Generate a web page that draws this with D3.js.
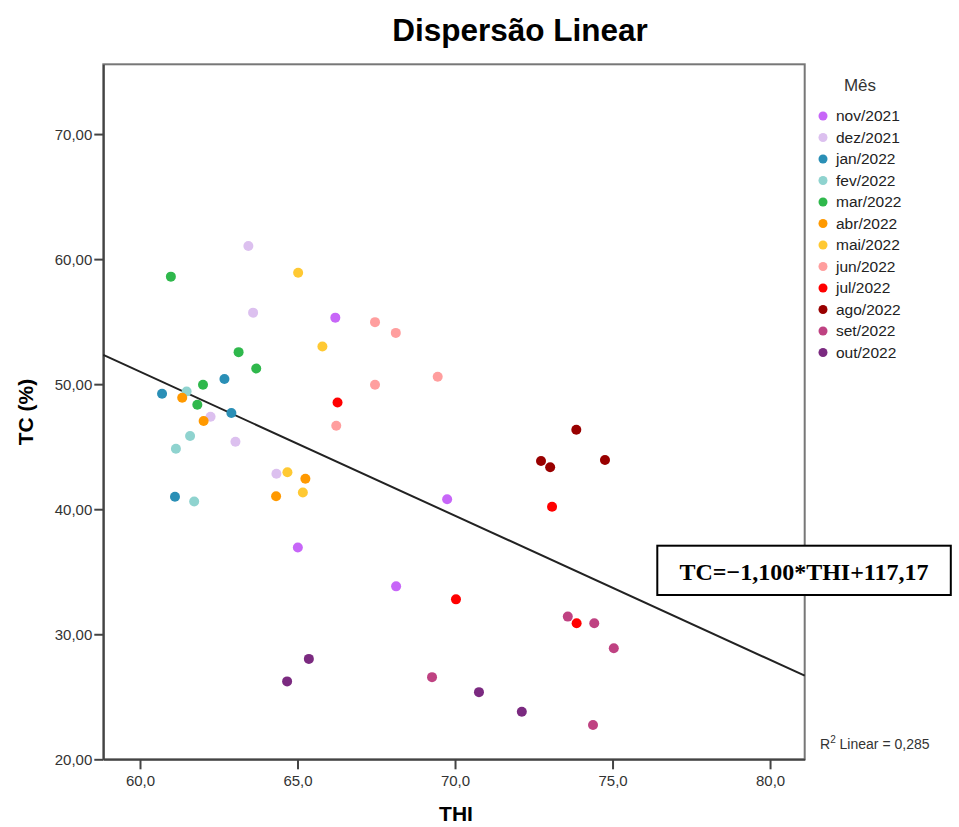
<!DOCTYPE html>
<html>
<head>
<meta charset="utf-8">
<script src="https://cdn.jsdelivr.net/npm/d3@7"></script>
<style>
  body { margin: 0; background: #fff; }
  svg { font-family: "Liberation Sans", Arial, sans-serif; }
</style>
</head>
<body>
<div id="chart"></div>
<script>
// months (legend order) and colours
const months = ["nov/2021", "dez/2021", "jan/2022", "fev/2022", "mar/2022", "abr/2022",
  "mai/2022", "jun/2022", "jul/2022", "ago/2022", "set/2022", "out/2022"]
const monthColors = ["#c766f8", "#dcc0ef", "#2a8fb6", "#8fd3cf", "#2fb84c", "#ff9900",
  "#ffc933", "#ff9e9e", "#ff0000", "#990000", "#bf4282", "#7b2a80"]

// THI / TC values per month
const thiNov = [66.20, 69.75, 65.01, 68.13]
const tcNov  = [55.32, 40.80, 36.94, 33.83]
const thiDez = [63.44, 63.59, 62.24, 63.03, 64.33]
const tcDez  = [61.05, 55.72, 47.40, 45.40, 42.83]
const thiJan = [62.68, 60.70, 62.90, 61.11]
const tcJan  = [50.41, 49.23, 47.69, 40.99]
const thiFev = [61.48, 61.59, 61.14, 61.72]
const tcFev  = [49.42, 45.86, 44.84, 40.61]
const thiMar = [60.98, 63.13, 63.69, 62.00, 61.82]
const tcMar  = [58.60, 52.56, 51.25, 49.95, 48.36]
const thiAbr = [61.34, 62.02, 65.25, 64.32]
const tcAbr  = [48.91, 47.06, 42.43, 41.04]
const thiMai = [65.02, 65.79, 64.68, 65.17]
const tcMai  = [58.91, 53.01, 42.95, 41.33]
const thiJun = [67.46, 68.12, 67.46, 69.45, 66.23]
const tcJun  = [54.96, 54.10, 49.95, 50.59, 46.68]
const thiJul = [66.27, 73.08, 70.03, 73.86]
const tcJul  = [48.54, 40.19, 32.79, 30.88]
const thiAgo = [73.85, 72.73, 73.02, 74.76]
const tcAgo  = [46.36, 43.86, 43.35, 43.94]
const thiSet = [73.58, 74.42, 75.04, 69.27, 74.38]
const tcSet  = [31.41, 30.88, 28.88, 26.57, 22.74]
const thiOut = [65.36, 64.67, 70.76, 72.12]
const tcOut  = [28.03, 26.23, 25.37, 23.80]

// fit line as drawn (ends at the frame edges)
const fitThi = [58.835, 81.10]
const fitTc = [52.34, 26.69]

const xTicks = [60, 65, 70, 75, 80]
const yTicks = [20, 30, 40, 50, 60, 70]

const thiByMonth = [thiNov, thiDez, thiJan, thiFev, thiMar, thiAbr, thiMai, thiJun, thiJul, thiAgo, thiSet, thiOut]
const tcByMonth = [tcNov, tcDez, tcJan, tcFev, tcMar, tcAbr, tcMai, tcJun, tcJul, tcAgo, tcSet, tcOut]

const points = []
months.forEach((m, i) => {
  thiByMonth[i].forEach((v, j) => points.push({ month: m, thi: v, tc: tcByMonth[i][j], color: monthColors[i] }))
})

const W = 959, H = 827
const PLOT = { LEFT: 103.3, RIGHT: 804.7, TOP: 64.3, BOTTOM: 759.3 }

const svg = d3.select("#chart").append("svg")
  .attr("width", W)
  .attr("height", H)

const x = d3.scaleLinear().domain([58.835, 81.10]).range([PLOT.LEFT, PLOT.RIGHT])
const y = d3.scaleLinear().domain([20, 75.58]).range([PLOT.BOTTOM, PLOT.TOP])

// frame
svg.append("rect")
  .attr("x", PLOT.LEFT)
  .attr("y", PLOT.TOP)
  .attr("width", PLOT.RIGHT - PLOT.LEFT)
  .attr("height", PLOT.BOTTOM - PLOT.TOP)
  .attr("fill", "none")
  .attr("stroke", "#777")
  .attr("stroke-width", 2)

// axes
const xAxis = svg.append("g")
  .attr("transform", `translate(0, ${PLOT.BOTTOM})`)
  .call(d3.axisBottom(x).tickValues(xTicks).tickSize(10).tickSizeOuter(0).tickPadding(6)
    .tickFormat(d => d3.format(".1f")(d).replace(".", ",")))
const yAxis = svg.append("g")
  .attr("transform", `translate(${PLOT.LEFT}, 0)`)
  .call(d3.axisLeft(y).tickValues(yTicks).tickSize(9).tickSizeOuter(0).tickPadding(2)
    .tickFormat(d => d3.format(".2f")(d).replace(".", ",")))

;[xAxis, yAxis].forEach(a => {
  a.select(".domain").attr("stroke", "#444").attr("stroke-width", 2)
  a.selectAll(".tick line").attr("stroke", "#444").attr("stroke-width", 2)
  a.selectAll(".tick text").attr("fill", "#333").attr("font-size", "15px")
    .attr("font-family", "Liberation Sans, Arial, sans-serif")
})
yAxis.selectAll(".tick text").attr("dy", "0.35em")

// fit line
svg.append("line")
  .attr("x1", x(fitThi[0]))
  .attr("y1", y(fitTc[0]))
  .attr("x2", x(fitThi[1]))
  .attr("y2", y(fitTc[1]))
  .attr("stroke", "#222")
  .attr("stroke-width", 2)

// points
svg.append("g").selectAll("circle")
  .data(points)
  .enter().append("circle")
  .attr("cx", d => x(d.thi))
  .attr("cy", d => y(d.tc))
  .attr("r", 5)
  .attr("fill", d => d.color)

// title and axis labels
svg.append("text")
  .attr("x", 520)
  .attr("y", 41)
  .attr("text-anchor", "middle")
  .attr("font-size", "31.5px")
  .attr("font-weight", "bold")
  .text("Dispersão Linear")

svg.append("text")
  .attr("x", 456)
  .attr("y", 821)
  .attr("text-anchor", "middle")
  .attr("font-size", "21px")
  .attr("font-weight", "bold")
  .text("THI")

svg.append("text")
  .attr("transform", "translate(33, 412) rotate(-90)")
  .attr("text-anchor", "middle")
  .attr("font-size", "21px")
  .attr("font-weight", "bold")
  .text("TC (%)")

// legend
const legend = svg.append("g")
svg.append("text")
  .attr("x", 860)
  .attr("y", 91)
  .attr("text-anchor", "middle")
  .attr("font-size", "17px")
  .attr("fill", "#333")
  .text("Mês")

const item = legend.selectAll("g")
  .data(months)
  .enter().append("g")
  .attr("transform", (d, i) => `translate(0, ${116 + i * 21.5})`)
item.append("circle")
  .attr("cx", 823)
  .attr("cy", 0)
  .attr("r", 4.5)
  .attr("fill", (d, i) => monthColors[i])
item.append("text")
  .attr("x", 836)
  .attr("y", 0)
  .attr("dy", "0.35em")
  .attr("font-size", "15.5px")
  .attr("fill", "#222")
  .text(d => d)

// equation box
svg.append("rect")
  .attr("x", 657.3)
  .attr("y", 545.7)
  .attr("width", 293.5)
  .attr("height", 49.3)
  .attr("fill", "#fff")
  .attr("stroke", "#000")
  .attr("stroke-width", 2)
svg.append("text")
  .attr("x", 804)
  .attr("y", 580)
  .attr("text-anchor", "middle")
  .attr("font-family", "Liberation Serif, Times New Roman, serif")
  .attr("font-size", "24px")
  .attr("font-weight", "bold")
  .text("TC=\u22121,100*THI+117,17")

// R squared
const r2 = svg.append("text")
  .attr("x", 820)
  .attr("y", 749)
  .attr("font-size", "14px")
  .attr("fill", "#333")
r2.append("tspan").text("R")
r2.append("tspan").attr("dy", -6).attr("font-size", "10px").text("2")
r2.append("tspan").attr("dy", 6).text(" Linear = 0,285")
</script>
</body>
</html>
